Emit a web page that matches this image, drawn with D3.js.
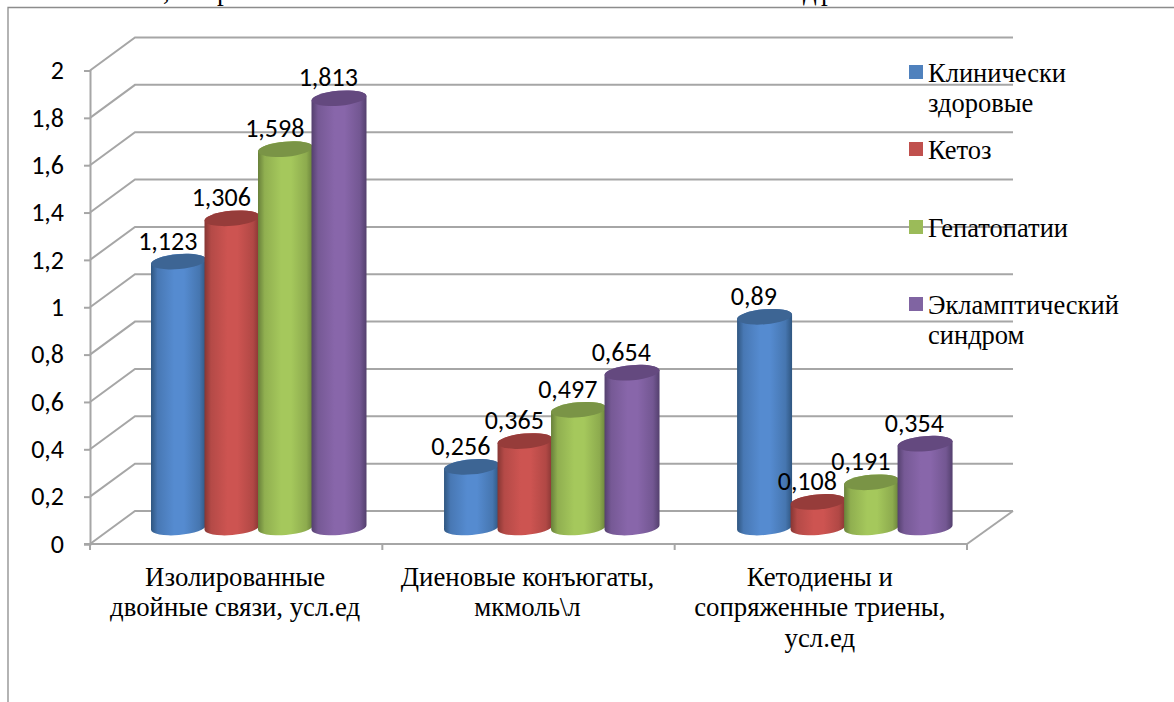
<!DOCTYPE html>
<html lang="ru">
<head>
<meta charset="utf-8">
<script src="https://cdn.jsdelivr.net/npm/d3@7/dist/d3.min.js"></script>
<style>
html,body{margin:0;padding:0;background:#fff;overflow:hidden}
svg{display:block}
</style>
</head>
<body>
<svg id="chart" width="1174" height="702"></svg>
<script>
const categories = [
  ["Изолированные", "двойные связи, усл.ед"],
  ["Диеновые конъюгаты,", "мкмоль\\л"],
  ["Кетодиены и", "сопряженные триены,", "усл.ед"]
];
const seriesNames = [
  ["Клинически", "здоровые"],
  ["Кетоз"],
  ["Гепатопатии"],
  ["Экламптический", "синдром"]
];
const healthy = [1.123, 0.256, 0.89];
const ketosis = [1.306, 0.365, 0.108];
const hepatopathy = [1.598, 0.497, 0.191];
const eclampsia = [1.813, 0.654, 0.354];
const seriesValues = [healthy, ketosis, hepatopathy, eclampsia];
const yTicks = [0, 0.2, 0.4, 0.6, 0.8, 1, 1.2, 1.4, 1.6, 1.8, 2];
const legendRows = [72, 149, 227, 304];
const headingScraps = [[163, ","], [217, "р"], [803, "д"], [821, "р"]];
const palette = [
  {base: "#558bd0", dark: "#2f5680", top: "#3d6594", leg: "#4f81bd"},
  {base: "#cd5451", dark: "#863633", top: "#963c3a", leg: "#c0504d"},
  {base: "#a5c85c", dark: "#68803a", top: "#7a9446", leg: "#9bbb59"},
  {base: "#8866aa", dark: "#54406e", top: "#64497f", leg: "#8064a2"}
];

const svg = d3.select("#chart");
const sans = "Carlito, Calibri, 'Open Sans', 'Noto Sans', sans-serif";
const serif = "'Liberation Serif', 'Times New Roman', serif";
const grid = "#a6a6a6";

// Front plane of the 3-D box; the back wall is offset by depth.
const y = d3.scaleLinear().domain([0, 2]).range([544, 70.5]);
const x = d3.scaleBand().domain(d3.range(categories.length)).range([90, 967]);
const depth = {dx: 45, dy: -33};
const seriesBand = d3.scaleBand().domain(d3.range(4)).paddingInner(0);

// Heading cut off by the top edge of the page
svg.append("g").attr("font-family", serif).attr("font-size", 27).attr("fill", "#000")
  .selectAll("text").data(headingScraps).join("text")
  .attr("x", d => d[0]).attr("y", 0).text(d => d[1]);

// Chart frame: open on the right and the bottom
svg.append("path").attr("d", "M8,702V7.5H1174")
  .attr("fill", "none").attr("stroke", "#8c8c8c").attr("stroke-width", 1.3);

const walls = svg.append("g").attr("fill", "none").attr("stroke", grid).attr("stroke-width", 2);

// Gridlines along the side and back walls
walls.selectAll("path.grid").data(yTicks).join("path").attr("class", "grid")
  .attr("d", t => {
    const yy = y(t);
    return `M${x.range()[0]},${yy}L${x.range()[0] + depth.dx},${yy + depth.dy}H${x.range()[1] + depth.dx + 1}`;
  });

// Floor edge on the right side
walls.append("path")
  .attr("d", `M${x.range()[1]},${y(0)}L${x.range()[1] + depth.dx + 1},${y(0) + depth.dy}`);

// Value axis with outer ticks
const axisY = svg.append("g").attr("transform", `translate(${x.range()[0]},0)`)
  .call(d3.axisLeft(y).tickValues(yTicks).tickSize(6).tickPadding(20)
    .tickFormat(d => String(d).replace(".", ",")));
axisY.selectAll("line,path").attr("stroke", grid).attr("stroke-width", 2);
axisY.selectAll("text").attr("font-family", sans).attr("font-size", 26).attr("fill", "#000");

// Category axis: ticks sit on the band boundaries
const boundaries = d3.range(categories.length + 1).map(i => x.range()[0] + i * x.bandwidth());
const axisX = svg.append("g").attr("stroke", grid).attr("stroke-width", 2);
axisX.append("line").attr("x1", x.range()[0] - 6).attr("x2", x.range()[1])
  .attr("y1", y(0)).attr("y2", y(0));
axisX.selectAll("line.tick").data(boundaries).join("line").attr("class", "tick")
  .attr("x1", d => d).attr("x2", d => d).attr("y1", y(0)).attr("y2", y(0) + 6);

// Horizontal shading that gives each bar its cylindrical look
const defs = svg.append("defs");
palette.forEach((c, i) => {
  const g = defs.append("linearGradient").attr("id", `cyl${i}`)
    .attr("x1", "0").attr("x2", "1").attr("y1", "0").attr("y2", "0");
  [[0, c.dark], [0.12, d3.interpolateRgb(c.dark, c.base)(0.65)], [0.42, c.base], [0.6, c.base],
   [0.88, d3.interpolateRgb(c.dark, c.base)(0.6)], [1, c.dark]]
    .forEach(([o, col]) => g.append("stop").attr("offset", o).attr("stop-color", col));
});

// Cylinders stand a little behind the front plane and overlap slightly
const groupLeft = ci => x(ci) + 61 + ci * 0.7;
const barSpan = 214;
const barOverlap = 1.5;
const backShift = -16.5;
const ry = 7.5;
const tilt = 0.085;

const bars = svg.append("g");
categories.forEach((cat, ci) => {
  seriesBand.range([groupLeft(ci), groupLeft(ci) + barSpan]);
  seriesValues.forEach((vals, si) => {
    const v = vals[ci];
    const bx = seriesBand(si);
    const bw = seriesBand.bandwidth() + barOverlap;
    const base = y(0) + backShift;
    const top = y(v) + backShift;
    const r = bw / 2;
    const rise = r * tilt;
    const g = bars.append("g");
    // Body: the bottom arc bulges forward, the top edge follows the rim
    g.append("path")
      .attr("d", `M${bx},${top + rise}L${bx},${base + rise}`
        + `A${r},${ry} -5 0 0 ${bx + bw},${base - rise}`
        + `L${bx + bw},${top - rise}`
        + `A${r},${ry} -5 0 0 ${bx},${top + rise}Z`)
      .attr("fill", `url(#cyl${si})`);
    // Top cap
    g.append("ellipse")
      .attr("cx", 0).attr("cy", 0).attr("rx", r).attr("ry", ry)
      .attr("transform", `translate(${bx + r},${top}) rotate(-5)`)
      .attr("fill", palette[si].top);
  });
});

// Value labels above each cylinder
const labels = svg.append("g").attr("font-family", sans).attr("font-size", 26)
  .attr("fill", "#000").attr("text-anchor", "middle");
categories.forEach((cat, ci) => {
  seriesBand.range([groupLeft(ci), groupLeft(ci) + barSpan]);
  seriesValues.forEach((vals, si) => {
    labels.append("text")
      .attr("x", seriesBand(si) + seriesBand.bandwidth() / 2 - 10)
      .attr("y", y(vals[ci]) + backShift - 12)
      .text(String(vals[ci]).replace(".", ","));
  });
});

// Category labels, centred under each band
const catLabels = svg.append("g").attr("font-family", serif).attr("font-size", 26.8)
  .attr("fill", "#000").attr("text-anchor", "middle");
categories.forEach((lines, ci) => {
  lines.forEach((line, li) => {
    catLabels.append("text")
      .attr("x", x(ci) + x.bandwidth() / 2 - 1)
      .attr("y", 585.5 + li * 30.5)
      .text(line);
  });
});

// Legend, drawn on top of the gridlines
const legend = svg.append("g");
seriesNames.forEach((lines, i) => {
  legend.append("rect").attr("x", 909).attr("y", legendRows[i] - 7)
    .attr("width", 14).attr("height", 14).attr("fill", palette[i].leg);
  lines.forEach((line, li) => {
    legend.append("text").attr("x", 928).attr("y", legendRows[i] + 9.5 + li * 30)
      .attr("font-family", serif).attr("font-size", 26.5).attr("fill", "#000")
      .text(line);
  });
});
</script>
</body>
</html>
